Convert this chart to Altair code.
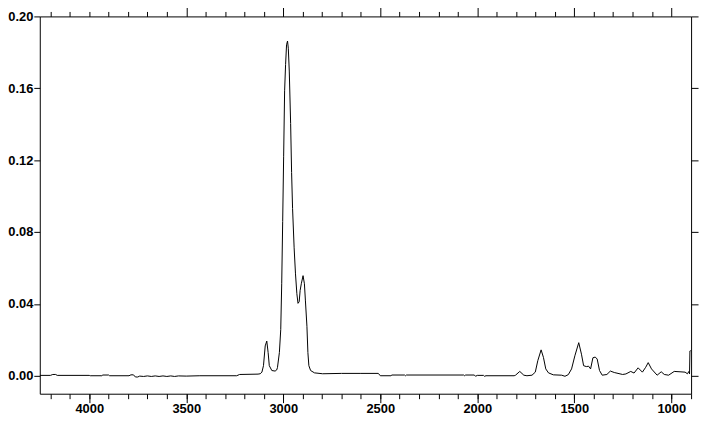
import altair as alt
import pandas as pd

# IR spectrum: wavenumber (cm-1) and absorbance
wavenumber = [
    4255, 4200, 4188, 4173, 4165, 4000, 3995, 3935, 3930, 3900, 3895, 3795, 3785, 3772,
    3762, 3750, 3740, 3720, 3700, 3680, 3660, 3640, 3620, 3600, 3580, 3560, 3540, 3500,
    3430, 3240, 3225, 3130, 3119, 3110, 3102, 3093, 3085, 3078, 3072, 3059, 3042, 3034,
    3030, 3020, 3013, 3008, 3003, 2998, 2993, 2988, 2983, 2978, 2974, 2969, 2962, 2957,
    2952, 2944, 2937, 2930, 2924, 2918, 2913, 2907, 2898, 2891, 2886, 2878, 2873, 2868,
    2859, 2839, 2797, 2700, 2600, 2510, 2500, 2445, 2440, 2375, 2370, 2365, 2070, 2065,
    2060, 2015, 2009, 2000, 1968, 1963, 1955, 1810, 1803, 1781, 1760, 1744, 1718, 1701,
    1688, 1671, 1659, 1647, 1633, 1608, 1565, 1548, 1531, 1514, 1497, 1477, 1463, 1452,
    1438, 1426, 1416, 1404, 1392, 1382, 1370, 1356, 1332, 1314, 1294, 1251, 1234, 1209,
    1192, 1171, 1149, 1132, 1119, 1102, 1073, 1052, 1036, 1014, 985, 955, 929, 917,
    909, 906, 904, 900,
]
absorbance = [
    0.0002, 0.0002, 0.0007, 0.0007, 0.0002, 0.0002, 0.0, 0.0, 0.0004, 0.0004, 0.0, 0.0, 0.0005, 0.0005,
    -0.0007, -0.0007, -0.0002, -0.0004, -0.0001, -0.0004, -0.0001, -0.0004, -0.0001, -0.0004, -0.0001, -0.0004, -0.0001, -0.0002,
    0.0, 0.0, 0.0007, 0.0009, 0.0011, 0.0020, 0.0056, 0.0166, 0.0193, 0.0129, 0.0056, 0.0029, 0.0026, 0.0032,
    0.0045, 0.0129, 0.0257, 0.0512, 0.0858, 0.1222, 0.1586, 0.1732, 0.1842, 0.1863, 0.1823, 0.1696, 0.1404, 0.1131,
    0.0931, 0.0712, 0.0567, 0.0457, 0.0403, 0.0412, 0.0475, 0.0512, 0.0557, 0.0512, 0.0421, 0.0275, 0.0129, 0.0056,
    0.0029, 0.0016, 0.0011, 0.0013, 0.0013, 0.0013, 0.0, 0.0, 0.0004, 0.0004, 0.0, 0.0004, 0.0004, 0.0,
    0.0004, 0.0004, -0.0003, 0.0002, 0.0002, -0.0003, 0.0, 0.0, 0.0003, 0.0024, 0.0003, 0.0, 0.0003, 0.0020,
    0.0084, 0.0144, 0.0102, 0.0038, 0.0016, 0.0005, 0.0003, -0.0003, 0.0006, 0.0038, 0.0111, 0.0184, 0.0120, 0.0056,
    0.0051, 0.0053, 0.0038, 0.0100, 0.0104, 0.0093, 0.0029, 0.0003, 0.0007, 0.0026, 0.0018, 0.0007, 0.0010, 0.0024,
    0.0015, 0.0044, 0.0020, 0.0047, 0.0073, 0.0038, 0.0003, 0.0022, 0.0007, 0.0003, 0.0024, 0.0022, 0.0020, 0.0011,
    0.0024, 0.0010, 0.0138, 0.0140,
]

x_labels = [4000, 3500, 3000, 2500, 2000, 1500, 1000]
x_minor = list(range(4200, 850, -100))
x_top_major = [3500, 3000, 2500, 2000, 1500, 1000]
x_top_minor = [v for v in range(4200, 1050, -100) if v not in x_top_major]
y_ticks = [0.0, 0.04, 0.08, 0.12, 0.16, 0.20]

df = pd.DataFrame({"wn": wavenumber, "abs": absorbance})

xscale = alt.Scale(domain=[4255, 898], nice=False, zero=False)
yscale = alt.Scale(domain=[-0.01, 0.20], nice=False, zero=False)

common = dict(domain=False, grid=False, tickColor="black", tickWidth=1,
              labelFont="Liberation Sans", labelFontWeight="bold", labelFontSize=13,
              labelColor="black", title=None)

base = alt.Chart(df)

main = base.mark_line(color="black", strokeWidth=1, clip=True).encode(
    x=alt.X("wn:Q", scale=xscale, axis=alt.Axis(orient="bottom", values=x_labels, tickSize=9,
                                                labelPadding=0, format="d", **common)),
    y=alt.Y("abs:Q", scale=yscale, axis=alt.Axis(orient="left", values=y_ticks, tickSize=6,
                                                 labelPadding=1, format=".2f", **common)),
)

minor_bottom = base.mark_line(opacity=0, clip=True).encode(
    x=alt.X("wn:Q", scale=xscale, axis=alt.Axis(orient="bottom", values=x_minor, tickSize=5,
                                                labels=False, **common)),
    y=alt.Y("abs:Q", scale=yscale, axis=alt.Axis(orient="right", values=y_ticks, tickSize=7,
                                                 labels=False, **common)),
)

top_minor = base.mark_line(opacity=0, clip=True).encode(
    x=alt.X("wn:Q", scale=xscale, axis=alt.Axis(orient="top", values=x_top_minor, tickSize=5,
                                                labels=False, **common)),
    y=alt.Y("abs:Q", scale=yscale, axis=None),
)

top_major = base.mark_line(opacity=0, clip=True).encode(
    x=alt.X("wn:Q", scale=xscale, axis=alt.Axis(orient="top", values=x_top_major, tickSize=9,
                                                labels=False, **common)),
    y=alt.Y("abs:Q", scale=yscale, axis=None),
)

chart = alt.layer(main, minor_bottom, top_minor, top_major).resolve_axis(
    x="independent", y="independent"
).properties(
    width=656, height=380,
    autosize=alt.AutoSizeParams(type="none"),
    padding={"left": 32, "top": 7, "right": 12, "bottom": 25},
    background="white",
).configure_view(stroke="black", strokeWidth=1)

chart.save("out.html", embed_options={"renderer": "svg", "actions": False})
